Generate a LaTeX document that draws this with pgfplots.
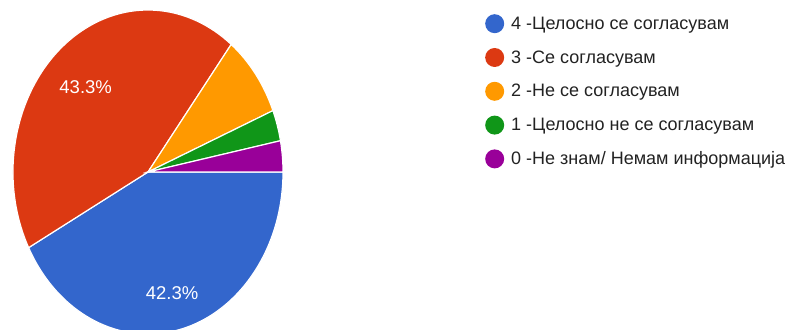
\documentclass[border=0pt]{standalone}
\usepackage{pgfplots}
\pgfplotsset{compat=1.18}
\usepackage{pgfplotstable}
\usepackage{fontspec}
\setmainfont{Liberation Sans}

\definecolor{gblue}{HTML}{3366CC}
\definecolor{gred}{HTML}{DC3912}
\definecolor{gorange}{HTML}{FF9900}
\definecolor{ggreen}{HTML}{109618}
\definecolor{gpurple}{HTML}{990099}
\definecolor{legtext}{HTML}{222222}

% answers: number of responses
\pgfplotstableread{
answer count
4 41
3 42
2 8
1 3
0 3
}\piedata

% one slice: start angle, end angle, colour (clockwise from 3 o'clock)
\newcommand\pieslice[3]{%
  \fill[#3, draw=white, line width=1.2bp] (axis cs:148,158)
    -- ++({135bp*cos(#1)},{162bp*sin(#1)})
    arc[start angle=#1, end angle=#2, x radius=135bp, y radius=162bp] -- cycle;}

\begin{document}
\begin{tikzpicture}
\pgfplotstablegetelem{0}{count}\of\piedata \let\cA\pgfplotsretval
\pgfplotstablegetelem{1}{count}\of\piedata \let\cB\pgfplotsretval
\pgfplotstablegetelem{2}{count}\of\piedata \let\cC\pgfplotsretval
\pgfplotstablegetelem{3}{count}\of\piedata \let\cD\pgfplotsretval
\pgfplotstablegetelem{4}{count}\of\piedata \let\cE\pgfplotsretval
\pgfmathsetmacro\total{\cA+\cB+\cC+\cD+\cE}
\pgfmathsetmacro\aA{-360*\cA/\total}
\pgfmathsetmacro\aB{\aA-360*\cB/\total}
\pgfmathsetmacro\aC{\aB-360*\cC/\total}
\pgfmathsetmacro\aD{\aC-360*\cD/\total}
\pgfmathsetmacro\aE{\aD-360*\cE/\total}
\pgfmathsetmacro\pA{100*\cA/\total}
\pgfmathsetmacro\pB{100*\cB/\total}
\pgfmathsetmacro\lAx{148+0.74*135*cos(\aA/2)}
\pgfmathsetmacro\lAy{158+0.74*162*sin(\aA/2)-5}
\pgfmathsetmacro\lBx{148+0.72*135*cos((\aA+\aB)/2)}
\pgfmathsetmacro\lBy{158+0.72*162*sin((\aA+\aB)/2)-5}

\path[use as bounding box] (0,0) rectangle (789bp,330bp);

\begin{axis}[
    at={(0,0)}, anchor=south west,
    scale only axis, width=789bp, height=330bp,
    xmin=0, xmax=789, ymin=0, ymax=330,
    hide axis, clip=false,
    legend image code/.code={\fill[#1, draw=none] (0bp,0bp) circle (9.5bp);},
    legend cell align=left,
    legend style={at={(axis cs:482,318)}, anchor=north west,
      draw=none, fill=none, text=legtext,
      font=\fontsize{18bp}{22bp}\selectfont,
      row sep=14.8bp, nodes={inner sep=0pt},
      /tikz/every odd column/.append style={column sep=7bp}},
    ]
\pieslice{0}{\aA}{gblue}
\pieslice{\aA}{\aB}{gred}
\pieslice{\aB}{\aC}{gorange}
\pieslice{\aC}{\aD}{ggreen}
\pieslice{\aD}{\aE}{gpurple}
\node[white, font=\fontsize{18.5bp}{22bp}\selectfont] at (axis cs:\lAx,\lAy)
  {\pgfmathprintnumber[fixed, fixed zerofill, precision=1, assume math mode=true]{\pA}\%};
\node[white, font=\fontsize{18.5bp}{22bp}\selectfont] at (axis cs:\lBx,\lBy)
  {\pgfmathprintnumber[fixed, fixed zerofill, precision=1, assume math mode=true]{\pB}\%};
\addlegendimage{gblue}
\addlegendimage{gred}
\addlegendimage{gorange}
\addlegendimage{ggreen}
\addlegendimage{gpurple}
\legend{4 -Целосно се согласувам, 3 -Се согласувам, 2 -Не се согласувам,
  1 -Целосно не се согласувам, 0 -Не знам/ Немам информација}
\end{axis}
\end{tikzpicture}
\end{document}
